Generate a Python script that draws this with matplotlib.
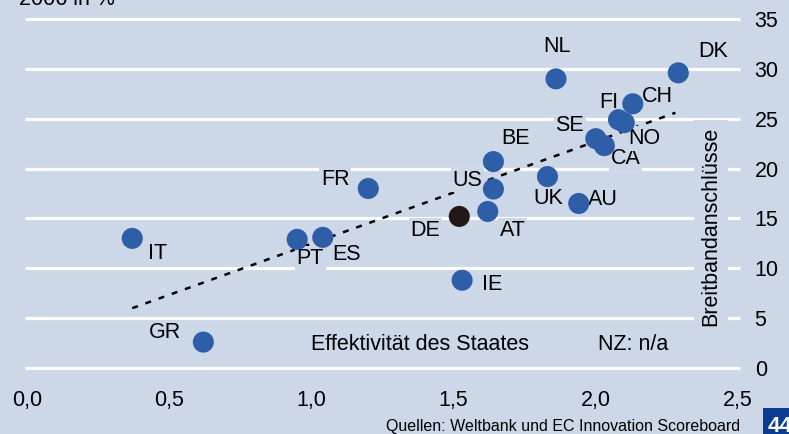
import matplotlib
matplotlib.use("Agg")
import matplotlib.pyplot as plt
from matplotlib.patches import Rectangle

plt.rcParams['font.family'] = ['Liberation Sans', 'DejaVu Sans']

# Data: Effektivität des Staates (x) vs Breitbandanschlüsse 2006 in % (y)
countries = ["IT", "GR", "PT", "ES", "FR", "DE", "AT", "US", "BE", "IE",
             "UK", "AU", "NL", "DK", "SE", "CA", "FI", "NO", "CH"]
effectiveness = [0.37, 0.62, 0.95, 1.04, 1.20, 1.52, 1.62, 1.64, 1.64, 1.53,
                 1.83, 1.94, 1.86, 2.29, 2.00, 2.03, 2.08, 2.10, 2.13]
broadband = [13.0, 2.6, 12.9, 13.1, 18.0, 15.2, 15.7, 17.95, 20.7, 8.8,
             19.2, 16.5, 29.0, 29.6, 23.0, 22.3, 24.9, 24.6, 26.5]
trend_x = [0.37, 2.28]
trend_y = [6.0, 25.6]
x_ticks = [0.0, 0.5, 1.0, 1.5, 2.0, 2.5]
x_ticklabels = ["0,0", "0,5", "1,0", "1,5", "2,0", "2,5"]
y_ticks = [0, 5, 10, 15, 20, 25, 30, 35]

# label offsets in pixels (dx, dy) relative to point, screen coords (y up)
label_offsets = {
    "IT": (25, -15), "GR": (-38, 10), "PT": (13, -19), "ES": (24, -17),
    "FR": (-33, 9), "DE": (-34, -14), "AT": (25, -19), "US": (-26, 9),
    "BE": (22, 23), "IE": (30, -4), "UK": (1, -22), "AU": (24, 4),
    "NL": (1, 32), "DK": (35, 21), "SE": (-26, 13), "CA": (21, -13),
    "FI": (-10, 17), "NO": (20, -16), "CH": (25, 7),
}

BG = "#CCD7E8"
BLUE = "#2F5EA9"
DARK = "#231815"
FS = 15.5

W, H = 789, 434
fig = plt.figure(figsize=(W / 100, H / 100), dpi=100, facecolor=BG)
x0px, x1px = 27, 738
y0px, y1px = 368, 19
ax = fig.add_axes([x0px / W, (H - y0px) / H, (x1px - x0px) / W, (y0px - y1px) / H])
ax.set_facecolor(BG)
ax.set_xlim(0, 2.5)
ax.set_ylim(0, 35)
for s in ax.spines.values():
    s.set_visible(False)

ax.hlines(y_ticks, -0.008, 2.507, colors="white", linewidth=2.3, zorder=1, clip_on=False)

ax.plot(trend_x, trend_y, color="black", linestyle=(0, (2.4, 3.2)), linewidth=1.8, zorder=2)

colors = [DARK if c == "DE" else BLUE for c in countries]
ax.scatter(effectiveness, broadband, s=230, c=colors, zorder=5, linewidths=0)

for c, xv, yv in zip(countries, effectiveness, broadband):
    dx, dy = label_offsets[c]
    ax.annotate(c, (xv, yv), xytext=(dx * 0.72, dy * 0.72), textcoords="offset points",
                ha="center", va="center", fontsize=FS, color="black", zorder=3,
                bbox=dict(boxstyle="square,pad=0.08", facecolor=BG, edgecolor="none"))

ax.set_xticks(x_ticks)
ax.set_xticklabels(x_ticklabels)
ax.set_yticks(y_ticks)
ax.tick_params(axis="both", length=0, labelsize=FS)
ax.tick_params(axis="x", pad=16)
ax.yaxis.tick_right()
ax.tick_params(axis="y", pad=12)

def dx_(px):
    return (px - x0px) / (x1px - x0px) * 2.5

def dy_(py):
    return (y0px - py) / (y0px - y1px) * 35

ax.text(dx_(420), dy_(344), "Effektivität des Staates", ha="center", va="center",
        fontsize=FS, zorder=3)
ax.text(dx_(633), dy_(344), "NZ: n/a", ha="center", va="center", fontsize=FS, zorder=3)

ax.text(dx_(711), dy_(226), "Breitbandanschlüsse", rotation=90, ha="center", va="center",
        fontsize=FS, zorder=3,
        bbox=dict(boxstyle="square,pad=0.3", facecolor=BG, edgecolor="none"))

fig.text(19 / W, 1 - 5 / H, "2006 in %", ha="left", va="baseline", fontsize=FS)
fig.text(740 / W, 1 - 426 / H, "Quellen: Weltbank und EC Innovation Scoreboard",
         ha="right", va="center", fontsize=11.5)

fig.patches.append(Rectangle((763 / W, 0), 30 / W, 26 / H, transform=fig.transFigure,
                             facecolor="#0B3C8F", edgecolor="none"))
fig.text(768 / W, 1 - 427 / H, "44", ha="left", va="center", fontsize=16,
         fontweight="bold", color="white")

fig.savefig("out.png", dpi=100, facecolor=BG)
